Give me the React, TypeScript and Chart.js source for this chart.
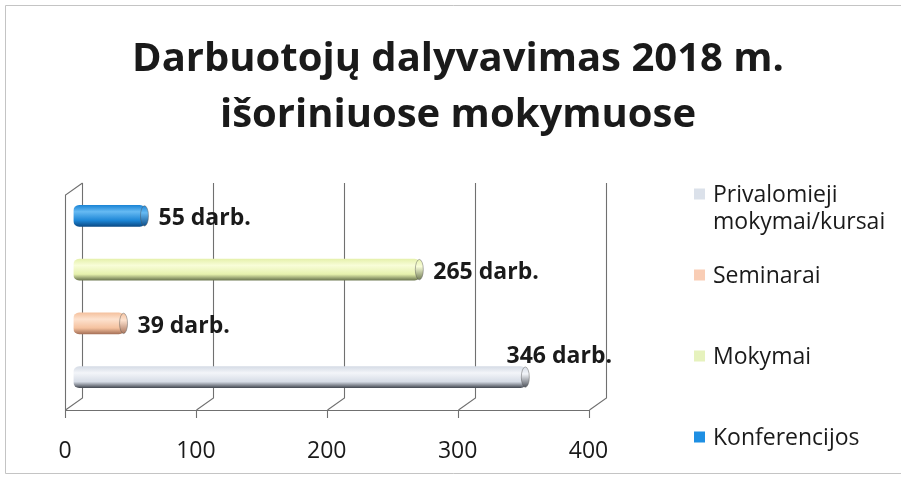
import React, { useEffect, useRef } from 'react';
import { Chart, registerables } from 'chart.js';

Chart.register(...registerables);

// ---- data ----
const titleLines = ['Darbuotojų dalyvavimas 2018 m.', 'išoriniuose mokymuose'];
const categories = ['Privalomieji mokymai/kursai', 'Seminarai', 'Mokymai', 'Konferencijos'];
const values = [346, 39, 265, 55];
const valueSuffix = ' darb.';
const xTicks = [0, 100, 200, 300, 400];

// ---- styles ----
const palette = [
  { base: '#d6dce6', light: '#f3f5f9', dark: '#4a4f58', swatch: '#dbe1ea' },
  { base: '#f5c29f', light: '#fde2cf', dark: '#a8735a', swatch: '#f9cdb5' },
  { base: '#e6f1ad', light: '#f8fdd8', dark: '#6f7a52', swatch: '#e6f2bd' },
  { base: '#1d86d6', light: '#66baf3', dark: '#0b4c88', swatch: '#1e8fe3' },
];
const FONT = '"Open Sans", "DejaVu Sans", sans-serif';
const TEXT = '#1a1a1a';
const GRID = '#707070';
const BAR_T = 21;
const DX = 8.5; // depth offset (x)
const DY = 6; // depth offset (y)

const decorPlugin = {
  id: 'decor',
  beforeDraw(chart: any) {
    const { ctx, width, height, chartArea: a, scales } = chart;
    const xs = scales.x;
    ctx.save();
    ctx.fillStyle = '#ffffff';
    ctx.fillRect(0, 0, width, height);
    ctx.strokeStyle = '#c4c4c4';
    ctx.lineWidth = 1;
    ctx.beginPath();
    ctx.moveTo(width, 5.5);
    ctx.lineTo(5.5, 5.5);
    ctx.lineTo(5.5, 473.5);
    ctx.lineTo(width, 473.5);
    ctx.stroke();

    ctx.strokeStyle = GRID;
    ctx.lineWidth = 1.1;
    const backTop = a.top - DY;
    const backBottom = a.bottom - DY;
    const frontTop = a.top + DY;
    const frontBottom = a.bottom + DY;
    ctx.beginPath();
    xTicks.forEach((v) => {
      const xm = xs.getPixelForValue(v);
      const xb = Math.round(xm + DX) + 0.5;
      const xf = Math.round(xm - DX) + 0.5;
      ctx.moveTo(xb, backTop);
      ctx.lineTo(xb, backBottom);
      ctx.lineTo(xf, frontBottom);
      ctx.moveTo(xf, frontBottom);
      ctx.lineTo(xf, frontBottom + 8);
    });
    const x0f = Math.round(xs.getPixelForValue(xTicks[0]) - DX) + 0.5;
    const x1f = Math.round(xs.getPixelForValue(xTicks[xTicks.length - 1]) - DX) + 0.5;
    ctx.moveTo(x0f, Math.round(frontBottom) + 0.5);
    ctx.lineTo(x1f, Math.round(frontBottom) + 0.5);
    const x0b = Math.round(xs.getPixelForValue(xTicks[0]) + DX) + 0.5;
    ctx.moveTo(x0f, frontBottom);
    ctx.lineTo(x0f, frontTop);
    ctx.lineTo(x0b, backTop);
    ctx.stroke();
    ctx.restore();
  },
  afterDatasetsDraw(chart: any) {
    const { ctx, chartArea: a } = chart;
    const meta = chart.getDatasetMeta(0);
    ctx.save();
    meta.data.forEach((el: any, i: number) => {
      if (!isFinite(el.x) || !isFinite(el.y)) return;
      const p = palette[i];
      const h = BAR_T / 2;
      const g = ctx.createLinearGradient(0, el.y - h, 0, el.y + h);
      g.addColorStop(0, p.base);
      g.addColorStop(0.35, p.light);
      g.addColorStop(1, p.dark);
      ctx.beginPath();
      ctx.ellipse(el.x - 1, el.y, 4, h - 0.3, 0, 0, Math.PI * 2);
      ctx.fillStyle = g;
      ctx.fill();
      ctx.strokeStyle = 'rgba(80,80,80,0.55)';
      ctx.lineWidth = 0.8;
      ctx.stroke();
      const txt = values[i] + valueSuffix;
      ctx.font = `bold 23px ${FONT}`;
      ctx.fillStyle = TEXT;
      ctx.textBaseline = 'middle';
      const w = ctx.measureText(txt).width;
      let lx = el.x + 13;
      let ly = el.y + 3;
      ctx.textAlign = 'left';
      if (lx + w > a.right + 5) {
        lx = a.right + 15;
        ly = el.y - 21;
        ctx.textAlign = 'right';
      }
      ctx.fillText(txt, lx, ly);
    });
    ctx.restore();
  },
  afterDraw(chart: any) {
    const { ctx } = chart;
    ctx.save();
    ctx.font = `bold 40px ${FONT}`;
    ctx.fillStyle = TEXT;
    ctx.textAlign = 'center';
    ctx.textBaseline = 'alphabetic';
    ctx.fillText(titleLines[0], 458, 71);
    ctx.fillText(titleLines[1], 458, 127);

    ctx.font = `23px ${FONT}`;
    ctx.textAlign = 'left';
    ctx.textBaseline = 'middle';
    const startY = 194;
    const step = 81;
    categories.forEach((c, i) => {
      const cy = startY + i * step;
      ctx.fillStyle = palette[i].swatch;
      ctx.fillRect(694, cy - 5.5, 11, 11);
      const words = c.split(' ');
      const lines: string[] = [];
      let cur = '';
      words.forEach((wd) => {
        const test = cur ? cur + ' ' + wd : wd;
        if (cur && ctx.measureText(test).width > 180) {
          lines.push(cur);
          cur = wd;
        } else cur = test;
      });
      lines.push(cur);
      ctx.fillStyle = TEXT;
      lines.forEach((ln, k) => ctx.fillText(ln, 713, cy + 1 + k * 27));
    });
    ctx.restore();
  },
};

export default function App() {
  const ref = useRef<HTMLCanvasElement>(null);
  useEffect(() => {
    const chart = new Chart(ref.current as HTMLCanvasElement, {
      type: 'bar',
      data: {
        labels: categories,
        datasets: [
          {
            data: values,
            barThickness: BAR_T,
            borderRadius: 6,
            borderSkipped: false,
            borderWidth: 0,
            backgroundColor: (c: any) => {
              const chart = c.chart;
              const p = palette[c.dataIndex] || palette[0];
              const ys = chart.scales && chart.scales.y;
              if (!ys || c.type !== 'data') return p.base;
              const cy = ys.getPixelForValue(c.dataIndex);
              if (!isFinite(cy)) return p.base;
              const h = BAR_T / 2;
              const g = chart.ctx.createLinearGradient(0, cy - h, 0, cy + h);
              g.addColorStop(0, p.base);
              g.addColorStop(0.3, p.light);
              g.addColorStop(0.72, p.base);
              g.addColorStop(1, p.dark);
              return g;
            },
          },
        ],
      },
      options: {
        indexAxis: 'y',
        animation: false,
        responsive: true,
        maintainAspectRatio: false,
        layout: { padding: { left: 73.5, right: 304, top: 189, bottom: 0 } },
        plugins: {
          legend: { display: false },
          title: { display: false },
          tooltip: { enabled: false },
        },
        scales: {
          y: { display: false, reverse: true },
          x: {
            min: 0,
            max: 400,
            grid: { display: false },
            border: { display: false },
            afterBuildTicks: (s: any) => {
              s.ticks = xTicks.map((v) => ({ value: v }));
            },
            afterFit: (s: any) => {
              s.height = 77;
            },
            ticks: {
              padding: 26,
              labelOffset: -DX,
              color: TEXT,
              font: { family: FONT, size: 23 },
              maxRotation: 0,
            },
          },
        },
      },
      plugins: [decorPlugin],
    } as any);
    return () => chart.destroy();
  }, []);
  return (
    <div style={{ position: 'absolute', left: 0, top: 0, width: 901, height: 481, background: '#fff' }}>
      <canvas ref={ref} />
    </div>
  );
}
